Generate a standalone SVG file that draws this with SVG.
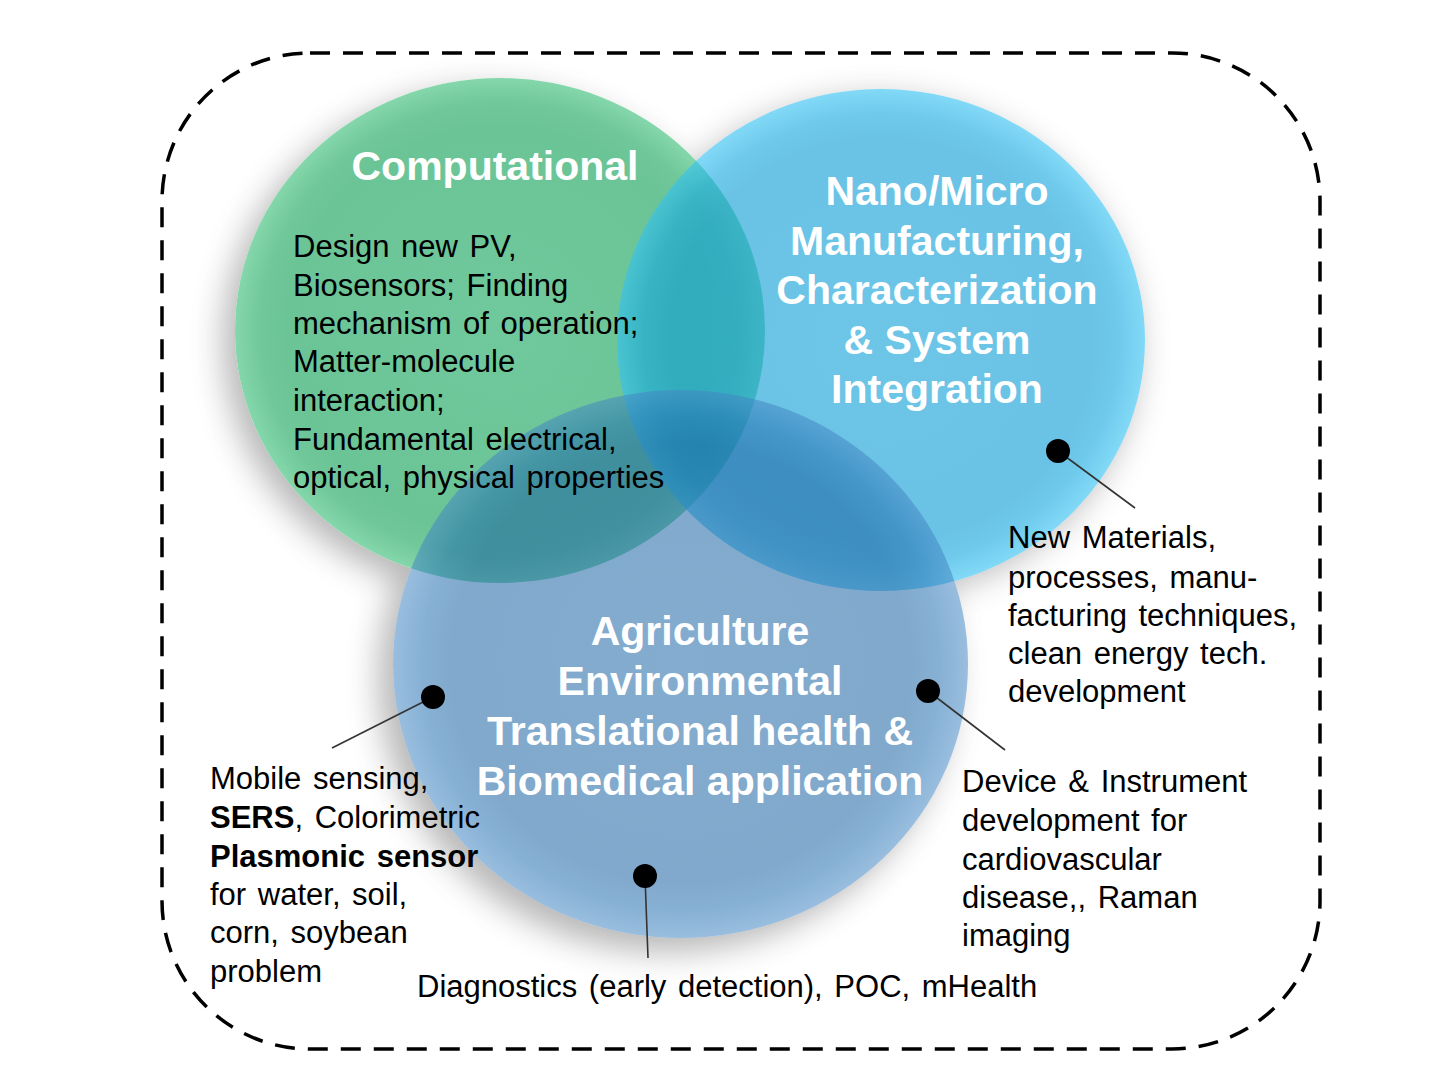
<svg xmlns="http://www.w3.org/2000/svg" width="1429" height="1071" viewBox="0 0 1429 1071">
<style>
.title{font-family:"Liberation Sans",Arial,sans-serif;font-weight:bold;font-size:41px;fill:#ffffff;text-anchor:middle}
.body{font-family:"Liberation Sans",Arial,sans-serif;font-size:31px;fill:#000000;word-spacing:3px}
.b{font-weight:bold}
.lead{stroke:#333333;stroke-width:1.6;fill:none}
.dot{fill:#000000}
</style>
<defs>
<radialGradient id="gGreen" cx="0.5" cy="0.5" r="0.5">
<stop offset="0" stop-color="#70c99c"/>
<stop offset="0.8" stop-color="#6bc496"/>
<stop offset="0.9" stop-color="#6fc79a"/>
<stop offset="1" stop-color="#84d7aa"/>
</radialGradient>
<radialGradient id="gBlue" cx="0.5" cy="0.5" r="0.5">
<stop offset="0" stop-color="#14a2d8"/>
<stop offset="0.8" stop-color="#0e9ed6"/>
<stop offset="0.9" stop-color="#16a8df"/>
<stop offset="1" stop-color="#35c2f2"/>
</radialGradient>
<radialGradient id="gBot" cx="0.5" cy="0.5" r="0.5">
<stop offset="0" stop-color="#1e68a8"/>
<stop offset="0.8" stop-color="#1a62a2"/>
<stop offset="0.9" stop-color="#2470b0"/>
<stop offset="1" stop-color="#4588c4"/>
</radialGradient>
<filter id="blur" x="-30%" y="-30%" width="160%" height="160%">
<feGaussianBlur stdDeviation="16"/>
</filter>
<mask id="outside" maskUnits="userSpaceOnUse" x="0" y="0" width="1429" height="1071">
<rect x="0" y="0" width="1429" height="1071" fill="#fff"/>
<ellipse cx="500" cy="330.5" rx="265" ry="252.5" fill="#000"/>
<ellipse cx="881" cy="340" rx="264" ry="251" fill="#000"/>
<ellipse cx="680.5" cy="664" rx="287.5" ry="274" fill="#000"/>
</mask>
</defs>
<rect x="0" y="0" width="1429" height="1071" fill="#ffffff"/>

<rect id="frame" x="162" y="53" width="1158" height="996" rx="148" ry="148" fill="none" stroke="#000" stroke-width="3.5" stroke-dasharray="20 13"/>

<g id="shadows" mask="url(#outside)" opacity="0.42">
<g filter="url(#blur)">
<ellipse cx="488" cy="342" rx="265" ry="252.5" fill="#555"/>
<ellipse cx="875" cy="348" rx="264" ry="251" fill="#666"/>
<ellipse cx="666" cy="678" rx="287.5" ry="274" fill="#555"/>
</g>
</g>

<g id="node-computational">
<ellipse cx="500" cy="330.5" rx="265" ry="252.5" fill="url(#gGreen)"/>
</g>
<g id="node-nano">
<ellipse cx="881" cy="340" rx="264" ry="251" fill="url(#gBlue)" opacity="0.62"/>
</g>
<g id="node-agri">
<ellipse cx="680.5" cy="664" rx="287.5" ry="274" fill="url(#gBot)" opacity="0.55"/>
</g>

<g id="labels-computational">
<text class="title" x="495" y="180">Computational</text>
<text class="body" x="293" y="257">Design new PV,</text>
<text class="body" x="293" y="296">Biosensors; Finding</text>
<text class="body" x="293" y="334">mechanism of operation;</text>
<text class="body" x="293" y="372">Matter-molecule</text>
<text class="body" x="293" y="411">interaction;</text>
<text class="body" x="293" y="450">Fundamental electrical,</text>
<text class="body" x="293" y="488">optical, physical properties</text>
</g>

<g id="labels-nano">
<text class="title" x="937" y="205">Nano/Micro</text>
<text class="title" x="937" y="255">Manufacturing,</text>
<text class="title" x="937" y="304">Characterization</text>
<text class="title" x="937" y="354">&amp; System</text>
<text class="title" x="937" y="403">Integration</text>
</g>

<g id="labels-agri">
<text class="title" x="700" y="645">Agriculture</text>
<text class="title" x="700" y="695">Environmental</text>
<text class="title" x="700" y="745">Translational health &amp;</text>
<text class="title" x="700" y="795">Biomedical application</text>
</g>

<g id="connectors">
<line class="lead" x1="1058" y1="451" x2="1135" y2="508"/>
<line class="lead" x1="928" y1="691" x2="1005" y2="750"/>
<line class="lead" x1="433" y1="697" x2="332" y2="748"/>
<line class="lead" x1="645" y1="876" x2="648" y2="958"/>
<circle class="dot" cx="1058" cy="451" r="12"/>
<circle class="dot" cx="928" cy="691" r="12"/>
<circle class="dot" cx="433" cy="697" r="12"/>
<circle class="dot" cx="645" cy="876" r="12"/>
</g>

<g id="note-materials">
<text class="body" x="1008" y="548">New Materials,</text>
<text class="body" x="1008" y="588">processes, manu-</text>
<text class="body" x="1008" y="626">facturing techniques,</text>
<text class="body" x="1008" y="664">clean energy tech.</text>
<text class="body" x="1008" y="702">development</text>
</g>

<g id="note-device">
<text class="body" x="962" y="792">Device &amp; Instrument</text>
<text class="body" x="962" y="831">development for</text>
<text class="body" x="962" y="870">cardiovascular</text>
<text class="body" x="962" y="908">disease,, Raman</text>
<text class="body" x="962" y="946">imaging</text>
</g>

<g id="note-mobile">
<text class="body" x="210" y="789">Mobile sensing,</text>
<text class="body" x="210" y="828"><tspan class="b">SERS</tspan>, Colorimetric</text>
<text class="body b" x="210" y="867">Plasmonic sensor</text>
<text class="body" x="210" y="905">for water, soil,</text>
<text class="body" x="210" y="943">corn, soybean</text>
<text class="body" x="210" y="982">problem</text>
</g>

<g id="note-diagnostics">
<text class="body" x="417" y="997">Diagnostics (early detection), POC, mHealth</text>
</g>
</svg>
